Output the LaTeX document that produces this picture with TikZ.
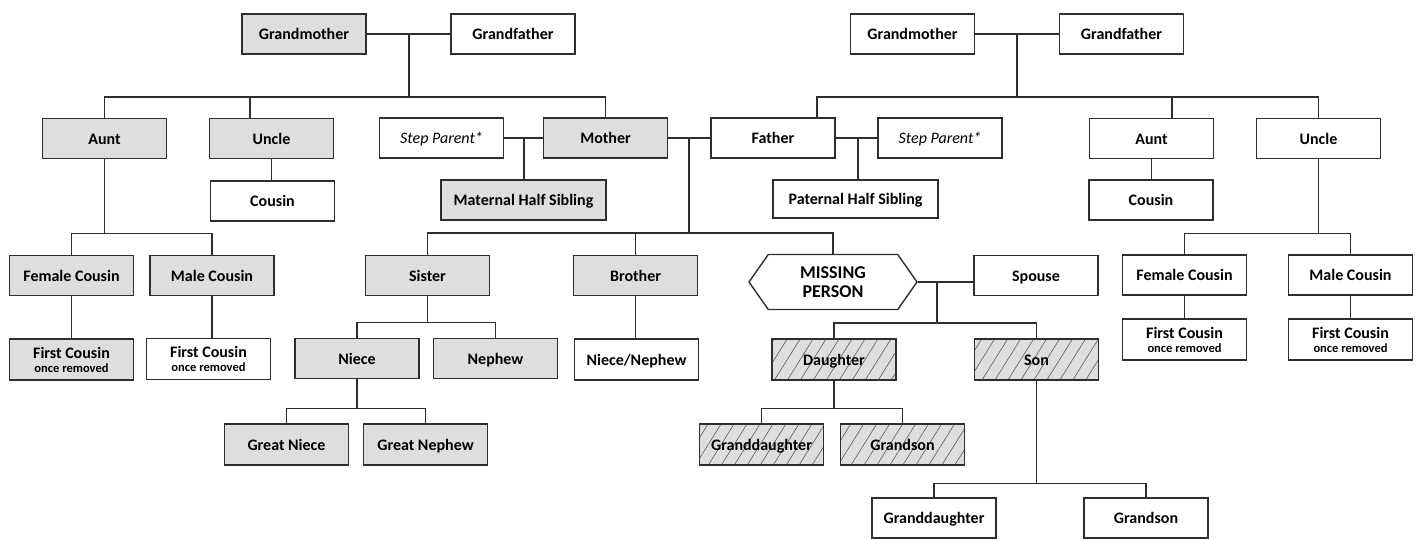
\documentclass[tikz,border=0pt]{standalone}
\usepackage{fontspec}
\setmainfont{Carlito}
\usetikzlibrary{shapes.symbols,patterns.meta}
\definecolor{boxgray}{HTML}{DEDEDE}
\definecolor{edgecol}{HTML}{2E2E2E}
\begin{document}
\begin{tikzpicture}[x=1pt,y=-1pt,
 pbox/.style={draw=edgecol, line width=1.4pt, minimum width=124pt, minimum height=40pt, inner sep=2pt, font=\fontsize{16}{18}\selectfont\bfseries, align=center, text height=12pt, text depth=0.5pt},
 gbox/.style={pbox, fill=boxgray},
 hbox/.style={pbox, preaction={fill=boxgray}, pattern={Lines[angle=58,distance=11pt,line width=0.6pt]}, pattern color=black!65},
 ibox/.style={pbox, font=\fontsize{16}{18}\selectfont\itshape},
 twoline/.style={minimum height=41pt, text height=, text depth=},
 conn/.style={draw=edgecol, line width=1.1pt}]
\useasboundingbox (0,0) rectangle (1421,540);

% grandparents
\node[gbox] (gmL) at (304,34) {Grandmother};
\node[pbox] (gfL) at (513,34) {Grandfather};
\node[pbox] (gmR) at (912.5,34) {Grandmother};
\node[pbox] (gfR) at (1121.5,34) {Grandfather};

% parent row
\node[gbox] (auntL) at (104.5,138.5) {Aunt};
\node[gbox] (uncleL) at (271.5,138.5) {Uncle};
\node[ibox] (stepL) at (441.5,138) {Step Parent*};
\node[gbox] (mother) at (605.5,138) {Mother};
\node[pbox] (father) at (773,138) {Father};
\node[ibox] (stepR) at (940,138) {Step Parent*};
\node[pbox] (auntR) at (1151.5,138.5) {Aunt};
\node[pbox] (uncleR) at (1318.5,138.5) {Uncle};

% row 3
\node[pbox] (cousinL) at (272.5,201) {Cousin};
\node[gbox, minimum width=165pt] (matHalf) at (523.5,200) {Maternal Half Sibling};
\node[pbox, minimum width=165pt, minimum height=38pt] (patHalf) at (855.5,199) {Paternal Half Sibling};
\node[pbox] (cousinR) at (1151,200) {Cousin};

% row 4
\node[gbox] (femCL) at (71.5,275.5) {Female Cousin};
\node[gbox] (maleCL) at (212,275.5) {Male Cousin};
\node[gbox] (sister) at (427.5,275.5) {Sister};
\node[gbox] (brother) at (635.5,275.5) {Brother};
\node[draw=edgecol, line width=1.4pt, signal, signal to=east and west, signal pointer angle=110,
      minimum width=168pt, minimum height=55pt, inner sep=2pt, align=center,
      font=\fontsize{18}{19}\selectfont\bfseries] (missing) at (833,282) {MISSING\\PERSON};
\node[pbox] (spouse) at (1036,275.5) {Spouse};
\node[pbox] (femCR) at (1184.5,275) {Female Cousin};
\node[pbox] (maleCR) at (1350.5,275) {Male Cousin};

% row 5
\node[gbox, twoline] (fc1L) at (71.5,359.5) {First Cousin\\[-4pt]{\fontsize{12.5}{12.5}\selectfont once removed}};
\node[pbox, twoline] (fc2L) at (208.5,359) {First Cousin\\[-4pt]{\fontsize{12.5}{12.5}\selectfont once removed}};
\node[gbox] (niece) at (357,358.5) {Niece};
\node[gbox] (nephew) at (495.5,358.5) {Nephew};
\node[pbox, minimum height=41pt] (nn) at (636.5,359.5) {Niece/Nephew};
\node[hbox, minimum height=41pt] (daughter) at (834,359.5) {Daughter};
\node[hbox, minimum height=41pt] (son) at (1036.5,359.5) {Son};
\node[pbox, twoline] (fc1R) at (1184.5,339.5) {First Cousin\\[-4pt]{\fontsize{12.5}{12.5}\selectfont once removed}};
\node[pbox, twoline] (fc2R) at (1350.5,339.5) {First Cousin\\[-4pt]{\fontsize{12.5}{12.5}\selectfont once removed}};

% row 6
\node[gbox, minimum height=41pt] (gniece) at (286.5,444.5) {Great Niece};
\node[gbox, minimum height=41pt] (gnephew) at (425.5,444.5) {Great Nephew};
\node[hbox, minimum height=41pt] (gdH) at (761.5,444.5) {Granddaughter};
\node[hbox, minimum height=41pt] (gsH) at (902.5,444.5) {Grandson};

% row 7
\node[pbox] (gdW) at (934,518) {Granddaughter};
\node[pbox] (gsW) at (1146,518) {Grandson};

% ---- connectors ----
\draw[conn] (gmL.east) -- (gfL.west);
\coordinate (jL) at (409,34);
\coordinate (bL) at (409,97);
\draw[conn] (jL) -- (bL);
\draw[conn] (auntL.north) |- (bL) -| (mother.north);
\draw[conn] ([xshift=-21.5pt]uncleL.north) |- (bL);
\draw[conn] (uncleL.south) -- (uncleL.south |- cousinL.north);
\draw[conn] (auntL.south) -- ++(0,74.5) coordinate (bA);
\draw[conn] (femCL.north) |- (bA) -| (maleCL.north);
\draw[conn] (femCL.south) -- (femCL.south |- fc1L.north);
\draw[conn] (maleCL.south) -- (maleCL.south |- fc2L.north);
\draw[conn] (stepL.east) -- (mother.west);
\coordinate (jM) at (524,138);
\draw[conn] (jM) -- (jM |- matHalf.north);
\draw[conn] (mother.east) -- (father.west);
\coordinate (jMF) at (689,138);
\coordinate (bS) at (689,233);
\draw[conn] (jMF) -- (bS);
\draw[conn] (sister.north) |- (bS) -| (missing.north);
\draw[conn] (brother.north) -- (brother.north |- bS);
\draw[conn] (father.east) -- (stepR.west);
\coordinate (jF) at (858,138);
\draw[conn] (jF) -- (jF |- patHalf.north);
\draw[conn] (gmR.east) -- (gfR.west);
\coordinate (jR) at (1017,34);
\coordinate (bR) at (1017,97);
\draw[conn] (jR) -- (bR);
\draw[conn] ([xshift=44pt]father.north) |- (bR) -| (uncleR.north);
\draw[conn] ([xshift=20.5pt]auntR.north) |- (bR);
\draw[conn] (auntR.south) -- (auntR.south |- cousinR.north);
\draw[conn] (uncleR.south) -- ++(0,74.5) coordinate (bU);
\draw[conn] (femCR.north) |- (bU) -| (maleCR.north);
\draw[conn] (femCR.south) -- (femCR.south |- fc1R.north);
\draw[conn] (maleCR.south) -- (maleCR.south |- fc2R.north);
\draw[conn] (sister.south) -- ++(0,26.5) coordinate (bSi);
\draw[conn] (niece.north) |- (bSi) -| (nephew.north);
\draw[conn] (brother.south) -- (brother.south |- nn.north);
\draw[conn] (niece.south) -- ++(0,29.5) coordinate (bN);
\draw[conn] (gniece.north) |- (bN) -| (gnephew.north);
\draw[conn] (missing.east) -- (missing.east -| spouse.west);
\coordinate (jMS) at (937,282);
\coordinate (bMS) at (937,323);
\draw[conn] (jMS) -- (bMS);
\draw[conn] (daughter.north) |- (bMS) -| (son.north);
\draw[conn] (daughter.south) -- ++(0,28.5) coordinate (bD);
\draw[conn] (gdH.north) |- (bD) -| (gsH.north);
\draw[conn] (son.south) -- ++(0,102.5) coordinate (bSo);
\draw[conn] (gdW.north) |- (bSo) -| (gsW.north);
\end{tikzpicture}
\end{document}
